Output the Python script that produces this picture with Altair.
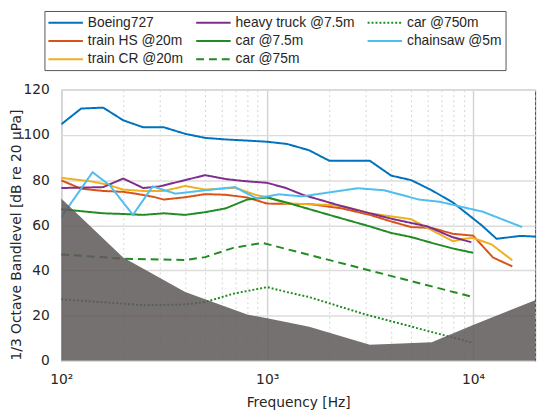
import altair as alt
import pandas as pd

# ---- data ----
boeing_f = [100, 125, 160, 200, 250, 315, 400, 500, 630, 800, 1000, 1250, 1600, 2000, 3150, 4000, 5000, 6300, 8000, 10000, 11000, 13000, 17000, 20000]
boeing_v = [104.7, 111.7, 112.1, 106.5, 103.4, 103.4, 100.5, 98.7, 98.0, 97.5, 97.0, 96.0, 93.2, 88.6, 88.6, 82.0, 80.0, 75.5, 70.0, 63.0, 60.0, 54.0, 55.3, 55.0]

trainhs_f = [100, 125, 160, 200, 230, 280, 315, 400, 500, 630, 800, 1000, 1600, 2300, 3150, 4000, 5000, 6300, 8000, 10000, 12500, 15500]
trainhs_v = [79.9, 76.2, 75.2, 74.8, 74.0, 72.6, 71.4, 72.4, 73.8, 73.5, 72.3, 69.6, 69.4, 67.5, 64.6, 61.7, 59.2, 58.8, 56.2, 55.4, 45.7, 41.8]

traincr_f = [100, 138, 166, 200, 250, 315, 400, 500, 700, 890, 1000, 1233, 2000, 2400, 3150, 5000, 6000, 8000, 8950, 10000, 12300, 15500]
traincr_v = [81.0, 79.5, 78.1, 75.8, 75.2, 75.2, 77.4, 75.8, 76.6, 73.3, 72.5, 69.7, 69.0, 68.2, 65.3, 62.7, 58.8, 52.9, 54.0, 54.4, 51.5, 44.5]

truck_f = [100, 160, 200, 250, 300, 500, 636, 790, 1000, 1233, 1500, 2300, 3150, 4100, 6000, 7900, 9800]
truck_v = [76.5, 76.9, 80.7, 76.5, 77.2, 82.2, 80.4, 79.5, 78.8, 76.5, 73.4, 68.5, 65.3, 62.7, 59.5, 54.8, 52.5]

car7_f = [100, 160, 200, 250, 315, 400, 500, 630, 800, 1000, 1250, 1500, 2000, 3150, 4000, 5000, 6300, 8000, 10000]
car7_v = [67.1, 65.3, 65.0, 64.6, 65.3, 64.6, 65.8, 67.5, 71.4, 72.3, 70.0, 67.9, 64.6, 59.5, 56.6, 54.8, 52.2, 49.7, 47.8]

car75_f = [100, 200, 400, 500, 685, 950, 10000]
car75_v = [47.1, 45.2, 44.6, 45.9, 50.0, 52.2, 28.2]

car750_f = [100, 200, 250, 400, 500, 685, 1000, 1250, 1600, 3000, 10000]
car750_v = [27.2, 25.3, 24.6, 24.9, 26.0, 29.7, 32.6, 30.4, 28.2, 20.5, 7.9]

saw_f = [100, 142, 172, 223, 278, 359, 500, 697, 889, 1138, 1478, 2750, 3700, 5450, 6900, 11140, 17300]
saw_v = [63.6, 83.5, 77.7, 64.6, 77.2, 74.0, 75.5, 76.9, 71.9, 73.7, 72.8, 76.4, 75.5, 71.4, 70.4, 66.0, 59.2]

thr_f = [100, 200, 400, 800, 1000, 1250, 1600, 3150, 6300, 10000, 20000]
thr_v = [71.9, 45.7, 30.4, 20.5, 18.8, 17.0, 15.1, 7.1, 8.2, 15.8, 26.8]

# vertical legend with 3 columns fills column by column
names = ["Boeing727", "train HS @20m", "train CR @20m",
         "heavy truck @7.5m", "car @7.5m", "car @75m",
         "car @750m", "chainsaw @5m"]
colors = ["#0072BD", "#D95319", "#EDB120",
          "#7E2F8E", "#228B22", "#228B22",
          "#228B22", "#4DBEEE"]
dashes = [[1, 0], [1, 0], [1, 0],
          [1, 0], [1, 0], [8, 5],
          [2, 2], [1, 0]]

series = {
    "Boeing727": (boeing_f, boeing_v),
    "train HS @20m": (trainhs_f, trainhs_v),
    "train CR @20m": (traincr_f, traincr_v),
    "heavy truck @7.5m": (truck_f, truck_v),
    "car @7.5m": (car7_f, car7_v),
    "car @75m": (car75_f, car75_v),
    "car @750m": (car750_f, car750_v),
    "chainsaw @5m": (saw_f, saw_v),
}

rows = []
for name in names:
    fs, vs = series[name]
    for i, (f, v) in enumerate(zip(fs, vs)):
        rows.append({"series": name, "freq": f, "level": v, "idx": i})
lines_df = pd.DataFrame(rows)
thr_df = pd.DataFrame({"freq": thr_f, "level": thr_v})

FONT = "DejaVu Sans"
LFONT = "Liberation Sans"
TXT = "#262626"

xgrid_vals = [100, 200, 300, 400, 500, 600, 700, 800, 900,
              1000, 2000, 3000, 4000, 5000, 6000, 7000, 8000, 9000,
              10000, 20000]
major = "datum.value == 100 || datum.value == 1000 || datum.value == 10000"

xscale = alt.Scale(type="log", domain=[100, 20000], nice=False)
yscale = alt.Scale(domain=[0, 120], nice=False)

xaxis = alt.Axis(
    title="Frequency [Hz]", values=xgrid_vals,
    labelExpr="datum.value == 100 ? '10²' : datum.value == 1000 ? '10³' : datum.value == 10000 ? '10⁴' : ''",
    grid=True,
    gridDash=alt.condition(major, alt.value([]), alt.value([2, 3])),
    gridColor=alt.condition(major, alt.value("#d4d4d4"), alt.value("#c8c8c8")),
    gridWidth=alt.condition(major, alt.value(1.5), alt.value(0.8)),
    ticks=False, labelPadding=12, labelFontSize=14, titleFontSize=14,
    titlePadding=9, labelFont=FONT, titleFont=FONT, labelColor=TXT, titleColor=TXT,
    domain=False, titleFontWeight="normal", labelFlush=False,
)
yaxis = alt.Axis(
    title="1/3 Octave Bandlevel [dB re 20 µPa]", values=[0, 20, 40, 60, 80, 100, 120],
    grid=True, gridColor="#dcdcdc", gridWidth=1.5, ticks=False,
    labelPadding=12, labelFontSize=14, titleFontSize=14,
    titleX=-38, titleY=147, titleBaseline="bottom",
    labelFont=FONT, titleFont=FONT, labelColor=TXT, titleColor=TXT,
    domain=False, titleFontWeight="normal",
)

legend = alt.Legend(
    orient="none", legendX=-17, legendY=-80, columns=3, direction="vertical", title=None,
    symbolType="M-2.5,0L2.5,0", symbolSize=196, symbolStrokeWidth=2,
    symbolOffset=9.5, symbolFillColor="transparent",
    labelFontSize=14, labelFont=LFONT, labelColor=TXT, labelLimit=300,
    strokeColor="#555555", fillColor="white", padding=4,
    rowPadding=3.5, columnPadding=9, labelOffset=14.5,
)

lines = alt.Chart(lines_df).mark_line(strokeWidth=2, clip=True).encode(
    x=alt.X("freq:Q", scale=xscale, axis=xaxis),
    y=alt.Y("level:Q", scale=yscale, axis=yaxis),
    color=alt.Color("series:N", scale=alt.Scale(domain=names, range=colors), legend=legend),
    strokeDash=alt.StrokeDash("series:N", scale=alt.Scale(domain=names, range=dashes), legend=legend),
    order="idx:Q",
)

area = alt.Chart(thr_df).mark_area(color="#5e5858", opacity=0.85, clip=True).encode(
    x=alt.X("freq:Q", scale=xscale),
    y=alt.Y("level:Q", scale=yscale),
    y2=alt.datum(0),
)

chart = alt.layer(lines, area).properties(
    width=481, height=275,
    autosize=alt.AutoSizeParams(type="none"),
    padding={"left": 54, "top": 80, "right": 7, "bottom": 49},
).configure_view(stroke="#404040", strokeWidth=1)

chart.save("out.html", embed_options={"renderer": "svg", "actions": False})
